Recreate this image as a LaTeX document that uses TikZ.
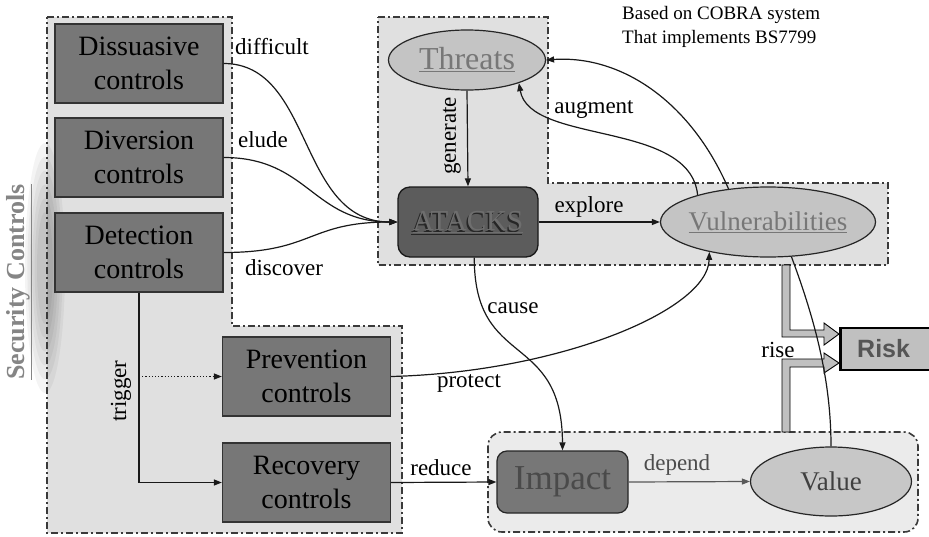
\documentclass[tikz,border=0pt]{standalone}
\usepackage{fontspec}
\setmainfont{Liberation Serif}
\newfontfamily\tnr{Liberation Serif}
\newfontfamily\risksans{Liberation Sans}
\usetikzlibrary{arrows.meta,shapes.geometric}

\definecolor{panel}{HTML}{E0E0E0}
\definecolor{panellight}{HTML}{EBEBEB}
\definecolor{ctrlfill}{HTML}{777777}
\definecolor{atkfill}{HTML}{5C5C5C}
\definecolor{atktext}{HTML}{6E6E6E}
\definecolor{ovalfill}{HTML}{C4C4C4}
\definecolor{ovaltext}{HTML}{777777}
\definecolor{framecol}{HTML}{3A3A3A}
\definecolor{imptext}{HTML}{4A4A4A}
\definecolor{riskfill}{HTML}{C0C0C0}
\definecolor{risktext}{HTML}{555555}
\definecolor{sectext}{HTML}{858585}

\begin{document}
\begin{tikzpicture}[x=1pt,y=-1pt,
  panelframe/.style={draw=framecol, line width=1.6pt,
    dash pattern=on 7pt off 3pt on 2pt off 3pt},
  ctrl/.style={draw=black!80, fill=ctrlfill, line width=1.3pt,
    minimum width=168pt, minimum height=79pt, inner sep=0pt,
    align=center, font=\tnr\fontsize{28}{34}\selectfont},
  oval/.style={ellipse, draw=black!85, fill=ovalfill, line width=1.2pt,
    inner sep=0pt, text=ovaltext},
  lbl/.style={font=\tnr\fontsize{23}{27}\selectfont, inner sep=0pt},
  conn/.style={line width=1.2pt, draw=black!90},
  arr/.style={conn, -{Triangle[length=8pt,width=6pt]}},
  blockarrow/.style={draw=black, line width=0.9pt, fill=riskfill},
  haze/.style={fill=black, opacity=0.045}
]
\useasboundingbox (0,0) rectangle (929,536);

% grouping panels (the controls panel gets a soft haze under its frame)
\fill[panel] (47,17) -- (232,17) -- (232,326) -- (402,326)
  -- (402,533) -- (47,533) -- cycle;
\foreach \r in {1.0,0.88,0.76,0.64,0.52,0.40}
  \fill[haze] (45,268) ellipse [x radius=20*\r, y radius=115*\r+10];
\draw[panelframe] (47,17) -- (232,17) -- (232,326) -- (402,326)
  -- (402,533) -- (47,533) -- cycle;
\path[panelframe, fill=panel] (378,17) -- (548,17) -- (548,183) -- (888,183)
  -- (888,265) -- (378,265) -- cycle;
\path[panelframe, fill=panellight, rounded corners=14pt] (488,432) rectangle (918,532);

% side title
\node[rotate=90, text=sectext, font=\tnr\fontsize{26}{30}\selectfont\bfseries, inner sep=0pt]
  (sectitle) at (19,282) {\underline{Security Controls}};

% note
\node[anchor=north west, align=left, inner sep=0pt, font=\tnr\fontsize{19}{24}\selectfont]
  (note) at (622,6) {Based on COBRA system\\That implements BS7799};

% control boxes
\node[ctrl] (dis) at (139,63.5) {Dissuasive\\controls};
\node[ctrl] (div) at (139,157.5) {Diversion\\controls};
\node[ctrl] (det) at (139,252.5) {Detection\\controls};
\node[ctrl] (pre) at (306.5,376.5) {Prevention\\controls};
\node[ctrl] (rec) at (306.5,482.5) {Recovery\\controls};

% threat / attack / vulnerability
\node[oval, minimum width=157pt, minimum height=60pt, font=\tnr\fontsize{32}{38}\selectfont]
  (thr) at (467,60) {\makebox[0pt]{\underline{Threats}}};
\node[draw=black!90, fill=atkfill, line width=1.3pt, rounded corners=12pt,
  minimum width=140pt, minimum height=70pt, inner sep=0pt, text=atktext,
  font=\tnr\fontsize{29}{34}\selectfont,
  path picture={\node[text=black!85, font=\tnr\fontsize{29}{34}\selectfont]
    at ([xshift=-1.6pt,yshift=-1.6pt]path picture bounding box.center) {\underline{ATACKS}};}]
  (atk) at (468,222) {\underline{ATACKS}};
\node[oval, minimum width=215pt, minimum height=70pt, font=\tnr\fontsize{27}{32}\selectfont]
  (vul) at (768,222) {\makebox[0pt]{\underline{Vulnerabilities}}};

% impact / value
\node[draw=black!85, fill=ctrlfill, line width=1.2pt, rounded corners=10pt,
  minimum width=131pt, minimum height=62pt, inner sep=0pt, text=imptext,
  font=\tnr\fontsize{35}{40}\selectfont] (imp) at (562.5,482) {Impact};
\node[oval, fill=ovalfill!95!white, text=black!75, minimum width=161pt, minimum height=69pt,
  font=\tnr\fontsize{27}{32}\selectfont] (val) at (831,481.5) {\makebox[0pt]{Value}};

% risk
\node[draw=black, line width=2.5pt, fill=riskfill, minimum width=110pt,
  minimum height=42pt, inner sep=0pt, anchor=west] (risk) at (839,349) {};
\node[anchor=west, inner sep=0pt, text=risktext, font=\risksans\fontsize{25}{30}\selectfont\bfseries]
  (risklbl) at ([xshift=18pt]risk.west) {Risk};

% block arrows feeding the risk box
\path[blockarrow] (782,265) -- (790,265) -- (790,330) -- (824,330) -- (824,323)
  -- (risk.west |- 0,334) -- (824,345) -- (824,337) -- (782,337) -- cycle;
\path[blockarrow] (782,432) -- (782,359) -- (824,359) -- (824,353)
  -- (risk.west |- 0,363) -- (824,373) -- (824,367) -- (790,367) -- (790,432) -- cycle;
\node[lbl] (riselbl) at (778,350) {rise};

% connectors from the controls
\draw[arr] (dis.east) .. controls +(90,0) and +(-100,0) .. (atk.west);
\draw[arr] (div.east) .. controls +(85,0) and +(-85,0) .. (atk.west);
\draw[arr] (det.east) .. controls +(90,0) and +(-90,0) .. (atk.west);
\node[lbl] (difflbl) at (272,47) {difficult};
\node[lbl] (eludelbl) at (263,140) {elude};
\node[lbl] (disclbl) at (284,268) {discover};

\draw[arr] (det.south) |- (rec.west);
\draw[conn, dotted, -{Triangle[length=8pt,width=6pt]}] (det.south |- pre.west) -- (pre.west);
\node[lbl, rotate=90] (triglbl) at (121,391) {trigger};

\draw[arr] (pre.east) .. controls (560,372) and (708,310) .. (vul.-153);
\node[lbl] (protlbl) at (469,383) {protect};

\draw[arr] (rec.east) -- (imp.west);
\node[lbl] (redlbl) at (441,468) {reduce};

% connectors among threats, attacks and vulnerabilities
\draw[arr] (thr.south) -- (atk.north);
\node[lbl, rotate=90] (genlbl) at (452,136) {generate};
\draw[arr] (atk.east) -- (vul.west);
\node[lbl] (explbl) at (589,207) {explore};
\draw[arr] (vul.159) .. controls (690,120) and (530,145) .. (thr.-24);
\draw[arr] (vul.140) .. controls (690,100) and (620,55) .. (thr.east);
\node[lbl] (auglbl) at (594,110) {augment};

\draw[arr] (atk.-80) .. controls (474,370) and (562,330) .. (imp.north);
\node[lbl] (causelbl) at (513,308) {cause};

\draw[conn, draw=black!65, -{Triangle[length=8pt,width=6pt]}] (imp.east) -- (val.west);
\node[lbl, text=black!70] (deplbl) at (677,465) {depend};

\draw[conn] (vul.-56) .. controls (815,320) and (831,380) .. (val.north);
\end{tikzpicture}
\end{document}
